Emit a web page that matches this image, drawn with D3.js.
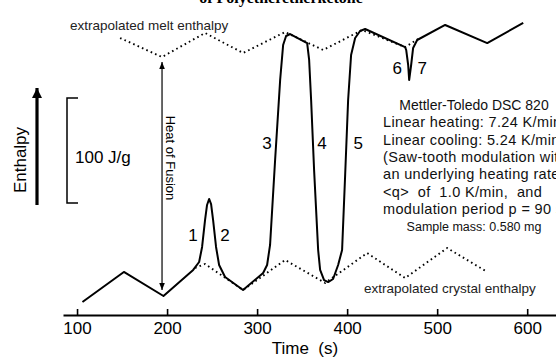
<!DOCTYPE html>
<html>
<head>
<meta charset="utf-8">
<script src="https://cdn.jsdelivr.net/npm/d3@7"></script>
<style>
  body { margin: 0; background: #fff; }
  svg { display: block; font-family: "Liberation Sans", Arial, sans-serif; }
  svg text { white-space: pre; }
</style>
</head>
<body>
<div id="chart"></div>
<script>
// measured DSC trace: time (s) and enthalpy (J/g, arbitrary zero)
var traceTime = [106, 152, 196, 229, 235.6, 238.9, 242.2, 244.4, 246.7, 248.9, 251.1, 254.4, 257.8, 264.4,
  284.4, 306.7, 311.1, 314.4, 320, 325.6, 328.9, 332.2, 336.7, 355.6, 357.8, 360, 363.3, 367.8, 370,
  374.4, 378.9, 384.4, 390, 394.4, 397.8, 401.1, 404.4, 408.9, 414.4, 420, 464.4, 465.6, 467.8, 468.9,
  471.1, 473.3, 477.8, 508.9, 555.6, 595.6];
var traceH = [12.4, 41, 18.1, 42.9, 50.5, 64.8, 90.5, 104.8, 110.5, 105.7, 90.5, 64.8, 47.6, 36.2,
  23.8, 40, 47.6, 66.7, 147.6, 223.8, 257.1, 265.7, 267.6, 259, 242.9, 204.8, 138.1, 61.9, 42.9,
  33.3, 31.4, 34.3, 47.6, 61.9, 133.3, 204.8, 247.6, 263.8, 270.5, 272.4, 255.2, 252.4, 238.1, 223.8,
  238.1, 254.3, 261.9, 276.2, 259, 278.1];

// extrapolated melt enthalpy (dotted)
var meltTime = [147.8, 194.4, 242.2, 284.4, 331.1, 373.3, 416.7, 464.4, 478.9];
var meltH = [263.8, 245.7, 268.6, 249.5, 269.5, 252.4, 271.4, 255.2, 262.9];

// extrapolated crystal enthalpy (dotted)
var crystTime = [231.1, 242.2, 284.4, 331.1, 375.6, 422.2, 464.4, 511.1, 555.6];
var crystH = [44.8, 48.6, 23.8, 52.4, 30.5, 59, 35.2, 63.8, 41];

var timeTicks = [100, 200, 300, 400, 500, 600];

var peakLabels = ["1", "2", "3", "4", "5", "6", "7"];
var peakLabelTime = [228.9, 264.4, 311.1, 372.2, 412.2, 455.6, 483.3];
var peakLabelH = [76, 76, 164, 164, 164, 235, 235];

var infoLines = ["Mettler-Toledo DSC 820", "Linear heating: 7.24 K/min", "Linear cooling: 5.24 K/min",
  "(Saw-tooth modulation with", "an underlying heating rate", "<q>  of  1.0 K/min,  and",
  "modulation period p = 90 s", "Sample mass: 0.580 mg"];

var fusionTime = 194.4, fusionTop = 241, fusionBottom = 23.8;
var scaleBarFrom = 106.7, scaleBarSize = 100;

var W = 556, H = 359;
var svg = d3.select("#chart").append("svg").attr("width", W).attr("height", H);

var x = d3.scaleLinear().domain([84.4, 632]).range([63, 556]);
var y = d3.scaleLinear().domain([0, 300]).range([315, 0]);

svg.append("defs").append("marker")
  .attr("id", "head").attr("viewBox", "0 0 10 10").attr("refX", 10).attr("refY", 5)
  .attr("markerWidth", 7).attr("markerHeight", 7).attr("markerUnits", "userSpaceOnUse")
  .attr("orient", "auto-start-reverse")
  .append("path").attr("d", "M0,1 L10,5 L0,9 Z").attr("fill", "#000");
svg.select("defs").append("marker")
  .attr("id", "bighead").attr("viewBox", "0 0 10 10").attr("refX", 10).attr("refY", 5)
  .attr("markerWidth", 10).attr("markerHeight", 12).attr("markerUnits", "userSpaceOnUse")
  .attr("orient", "auto")
  .append("path").attr("d", "M0,0 L10,5 L0,10 Z").attr("fill", "#000");

// title, cut off at the top as in the source figure
svg.append("text").attr("x", 281).attr("y", 3).attr("text-anchor", "middle")
  .style("font-family", "'Liberation Serif', serif").style("font-weight", "bold").style("font-size", "16px")
  .text("of Polyetheretherketone");

// x axis
var xAxis = d3.axisBottom(x).tickValues(timeTicks).tickSizeInner(-6).tickSizeOuter(0).tickPadding(7);
var ax = svg.append("g").attr("transform", "translate(0," + 315 + ")").call(xAxis);
ax.select(".domain").attr("stroke-width", 2.2);
ax.selectAll(".tick line").attr("stroke-width", 1.6);
ax.selectAll(".tick text").style("font-size", "17px").style("font-family", "'Liberation Sans', Arial, sans-serif").attr("fill", "#000");

svg.append("text").attr("x", 305).attr("y", 354).attr("text-anchor", "middle")
  .style("font-size", "17px").text("Time  (s)");

var line = d3.line().x(function(d){return x(d[0]);}).y(function(d){return y(d[1]);});

var dotted = [[meltTime, meltH], [crystTime, crystH]];
dotted.forEach(function(s){
  svg.append("path")
    .datum(s[0].map(function(t, i){return [t, s[1][i]];}))
    .attr("d", line).attr("fill", "none").attr("stroke", "#000")
    .attr("stroke-width", 1.9).attr("stroke-dasharray", "1.6,3.2");
});

svg.append("path")
  .datum(traceTime.map(function(t, i){return [t, traceH[i]];}))
  .attr("d", line).attr("fill", "none").attr("stroke", "#000")
  .attr("stroke-width", 2).attr("stroke-linejoin", "round");

// heat of fusion double arrow
svg.append("line")
  .attr("x1", x(fusionTime)).attr("x2", x(fusionTime))
  .attr("y1", y(fusionBottom)).attr("y2", y(fusionTop))
  .attr("stroke", "#000").attr("stroke-width", 1.2)
  .attr("marker-start", "url(#head)").attr("marker-end", "url(#head)");
svg.append("text")
  .attr("transform", "translate(166,158) rotate(90)")
  .attr("text-anchor", "middle").style("font-size", "13px")
  .text("Heat of Fusion");

// enthalpy arrow
svg.append("line").attr("x1", 37).attr("x2", 37).attr("y1", 205).attr("y2", 88)
  .attr("stroke", "#000").attr("stroke-width", 3.2).attr("marker-end", "url(#bighead)");
svg.append("text").attr("transform", "translate(26,160) rotate(-90)")
  .attr("text-anchor", "middle").style("font-size", "17px").text("Enthalpy");

// 100 J/g scale bar
var sb = d3.path();
sb.moveTo(78, y(scaleBarFrom + scaleBarSize));
sb.lineTo(67, y(scaleBarFrom + scaleBarSize));
sb.lineTo(67, y(scaleBarFrom));
sb.lineTo(78, y(scaleBarFrom));
svg.append("path").attr("d", sb.toString()).attr("fill", "none").attr("stroke", "#000").attr("stroke-width", 1.5);
svg.append("text").attr("x", 75).attr("y", 163).style("font-size", "17px").text("100 J/g");

// peak numbers
svg.selectAll(".peak").data(peakLabels).enter().append("text")
  .attr("class", "peak")
  .attr("x", function(d, i){return x(peakLabelTime[i]);})
  .attr("y", function(d, i){return y(peakLabelH[i]);})
  .attr("text-anchor", "middle").attr("dy", "0.35em")
  .style("font-size", "17px").text(function(d){return d;});

svg.append("text").attr("x", 70).attr("y", 30).style("font-size", "13.5px").attr("fill", "#222")
  .text("extrapolated melt enthalpy");
svg.append("text").attr("x", 364).attr("y", 293).style("font-size", "13.5px").attr("fill", "#222")
  .text("extrapolated crystal enthalpy");

// instrument info block
var last = infoLines.length - 1;
svg.selectAll(".info").data(infoLines).enter().append("text")
  .attr("class", "info")
  .attr("x", function(d, i){return (i == 0 || i == last) ? 474 : 383;})
  .attr("y", function(d, i){return 110 + i * 17.3;})
  .attr("text-anchor", function(d, i){return (i == 0 || i == last) ? "middle" : "start";})
  .style("font-size", function(d, i){return i == last ? "12.5px" : (i == 0 ? "14px" : "14.5px");})
  .style("letter-spacing", function(d, i){return (i == 0 || i == last) ? "0px" : "0.35px";})
  .attr("fill", "#111")
  .text(function(d){return d;});
</script>
</body>
</html>
